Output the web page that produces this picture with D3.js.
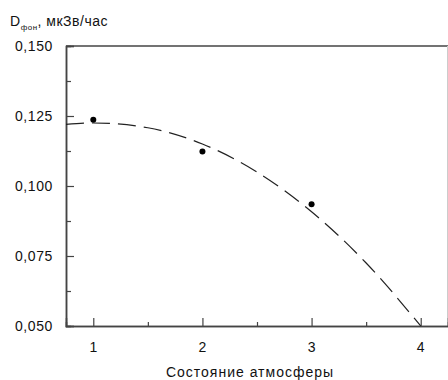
<!DOCTYPE html>
<html>
<head>
<meta charset="utf-8">
<script src="https://cdn.jsdelivr.net/npm/d3@7"></script>
<style>
  body { margin: 0; background: #fff; }
  text { font-family: "Liberation Sans", Arial, sans-serif; fill: #111; }
</style>
</head>
<body>
<div id="chart"></div>
<script>
// measured points
const states = [1, 2, 3];
const dose = [0.1237, 0.1123, 0.0935];

// fitted curve
const fitX = [0.75, 1, 1.5, 2, 2.5, 3, 3.5, 4];
const fitY = [0.1220, 0.1225, 0.1208, 0.1150, 0.1050, 0.0908, 0.0725, 0.0500];

const xTicks = [1, 2, 3, 4];
const xMinor = [1.5, 2.5, 3.5];
const yTicks = [0.050, 0.075, 0.100, 0.125, 0.150];
const yMinor = [0.0625, 0.0875, 0.1125, 0.1375];

const width = 448, height = 380;
const svg = d3.select('#chart').append('svg')
  .attr('width', width)
  .attr('height', height);

const x = d3.scaleLinear().domain([0.75, 4.25]).range([66, 448]);
const y = d3.scaleLinear().domain([0.05, 0.15]).range([326, 46]);

const fmt = d => d3.format('.3f')(d).replace('.', ',');

// frame
svg.append('line')
  .attr('x1', x(0.75)).attr('x2', width)
  .attr('y1', y(0.15)).attr('y2', y(0.15))
  .style('stroke', '#444').style('stroke-width', 1.5);
svg.append('line')
  .attr('x1', 447.5).attr('x2', 447.5)
  .attr('y1', y(0.15)).attr('y2', y(0.05))
  .style('stroke', '#ccc');

// y axis, ticks pointing inward
const yAxis = svg.append('g')
  .attr('transform', `translate(${x(0.75)},0)`)
  .call(d3.axisRight(y).tickValues(yTicks).tickSize(8).tickFormat(''));
yAxis.append('g')
  .call(d3.axisRight(y).tickValues(yMinor).tickSize(5).tickFormat(''));
yAxis.selectAll('.domain').style('stroke', '#444').style('stroke-width', 1.5);
yAxis.selectAll('.tick line').style('stroke', '#444').style('stroke-width', 1.2);

svg.append('g').selectAll('text')
  .data(yTicks)
  .enter()
  .append('text')
  .attr('x', 53)
  .attr('y', d => y(d) + 5)
  .attr('text-anchor', 'end')
  .style('font-size', '14px')
  .style('letter-spacing', '0.6px')
  .text(fmt);

// x axis, ticks pointing inward
const xAxis = svg.append('g')
  .attr('transform', `translate(0,${y(0.05)})`)
  .call(d3.axisTop(x).tickValues(xTicks).tickSize(8).tickFormat(''));
xAxis.append('g')
  .call(d3.axisTop(x).tickValues(xMinor).tickSize(4).tickFormat(''));
xAxis.selectAll('.domain').style('stroke', '#444').style('stroke-width', 1.5);
xAxis.selectAll('.tick line').style('stroke', '#444').style('stroke-width', 1.2);

svg.append('g').selectAll('text')
  .data(xTicks)
  .enter()
  .append('text')
  .attr('x', d => x(d))
  .attr('y', 352)
  .attr('text-anchor', 'middle')
  .style('font-size', '14px')
  .text(d => d);

// fit curve
const line = d3.line()
  .x(d => x(d[0]))
  .y(d => y(d[1]))
  .curve(d3.curveMonotoneX);
svg.append('path')
  .datum(fitX.map((v, i) => [v, fitY[i]]))
  .attr('d', line)
  .style('fill', 'none')
  .style('stroke', '#222')
  .style('stroke-width', 1.2)
  .style('stroke-dasharray', '18,8');

// points
svg.append('g').selectAll('circle')
  .data(states.map((v, i) => [v, dose[i]]))
  .enter()
  .append('circle')
  .attr('cx', d => x(d[0]))
  .attr('cy', d => y(d[1]))
  .attr('r', 3)
  .style('fill', '#000');

// titles
const title = svg.append('text')
  .attr('x', 10)
  .attr('y', 26)
  .style('font-size', '14px')
  .style('letter-spacing', '0.5px');
title.append('tspan').text('D');
title.append('tspan').attr('dy', 4).style('font-size', '8px').text('фон');
title.append('tspan').attr('dy', -4).text(', мкЗв/час');

svg.append('text')
  .attr('x', 250)
  .attr('y', 377)
  .attr('text-anchor', 'middle')
  .style('font-size', '14px')
  .style('letter-spacing', '1px')
  .text('Состояние атмосферы');
</script>
</body>
</html>
